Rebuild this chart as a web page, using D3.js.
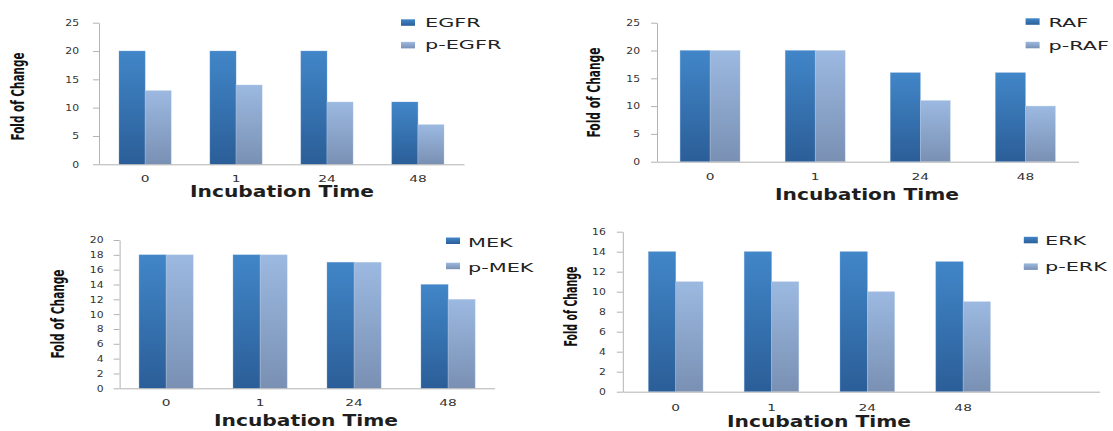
<!DOCTYPE html>
<html>
<head>
<meta charset="utf-8">
<script src="https://cdn.jsdelivr.net/npm/d3@7"></script>
<style>
  html, body { margin: 0; padding: 0; background: #ffffff; }
  svg { display: block; }
</style>
</head>
<body>
<svg id="chart" width="1113" height="431"></svg>
<script>
// Incubation time points (hours)
const times = ["0", "1", "24", "48"];

// Total vs phosphorylated protein, fold of change
const egfr  = [20, 20, 20, 11];
const pEgfr = [13, 14, 11, 7];
const raf   = [20, 20, 16, 16];
const pRaf  = [20, 20, 11, 10];
const mek   = [18, 18, 17, 14];
const pMek  = [18, 18, 17, 12];
const erk   = [14, 14, 14, 13];
const pErk  = [11, 11, 10, 9];

// Y tick values per panel
const ticks25 = [0, 5, 10, 15, 20, 25];
const ticks20 = [0, 2, 4, 6, 8, 10, 12, 14, 16, 18, 20];
const ticks16 = [0, 2, 4, 6, 8, 10, 12, 14, 16];

const xTitle = "Incubation Time";
const yTitle = "Fold of Change";

const panels = [
  { names: ["EGFR", "p-EGFR"], series: [egfr, pEgfr], ticks: ticks25, yMax: 25,
    xr: [99, 464], inner: 0.426, outer: 0.22, align: 0.5, yr: [164.3, 22.7],
    tickPad: 14, xLab: 182, tBase: 197, tX: 282, yt: { x: 24, y: 96.5, len: 88 },
    lg: { x: 401, y: 19.3, tx: 425, base: 26.7, gap: 22.6 } },
  { names: ["RAF", "p-RAF"], series: [raf, pRaf], ticks: ticks25, yMax: 25,
    xr: [657, 1078.5], inner: 0.43, outer: 0.22, align: 0.5, yr: [161.7, 22.7],
    tickPad: 11, xLab: 180, tBase: 200, tX: 867, yt: { x: 600, y: 92.5, len: 90 },
    lg: { x: 1025.6, y: 18.3, tx: 1048.5, base: 26.7, gap: 23.5 } },
  { names: ["MEK", "p-MEK"], series: [mek, pMek], ticks: ticks20, yMax: 20,
    xr: [119.6, 494.6], inner: 0.424, outer: 0.207, align: 0.5, yr: [388.3, 240],
    tickPad: 10, xLab: 406, tBase: 426, tX: 306, yt: { x: 64, y: 314, len: 89 },
    lg: { x: 446, y: 237.5, tx: 468, base: 246.5, gap: 25.2 } },
  { names: ["ERK", "p-ERK"], series: [erk, pErk], ticks: ticks16, yMax: 16,
    xr: [622.8, 1099.7], inner: 0.43, outer: 0.704, align: 0.19, yr: [391.7, 231.7],
    tickPad: 11, xLab: 411, tBase: 427, tX: 819, yt: { x: 577, y: 306.5, len: 80 },
    lg: { x: 1023.8, y: 236.8, tx: 1045, base: 244.5, gap: 26.6 } }
];

const svg = d3.select("#chart");
const defs = svg.append("defs");

// Vertical gradients for the two series
function gradient(id, top, bottom) {
  const g = defs.append("linearGradient").attr("id", id)
    .attr("x1", 0).attr("y1", 0).attr("x2", 0).attr("y2", 1);
  g.append("stop").attr("offset", "0%").attr("stop-color", top);
  g.append("stop").attr("offset", "100%").attr("stop-color", bottom);
}
gradient("gDark", "#4186c8", "#2b5e98");
gradient("gLight", "#9cb9e1", "#7990b3");
const fills = ["url(#gDark)", "url(#gLight)"];

// Widen text horizontally by a factor
function stretch(sel, factor) {
  sel.each(function () {
    const w = this.getComputedTextLength();
    d3.select(this).attr("textLength", w * factor).attr("lengthAdjust", "spacingAndGlyphs");
  });
}

panels.forEach(p => {
  const g = svg.append("g");

  const x = d3.scaleBand().domain(times).range(p.xr)
    .paddingInner(p.inner).paddingOuter(p.outer).align(p.align);
  const xs = d3.scaleBand().domain([0, 1]).range([0, x.bandwidth()]);
  const y = d3.scaleLinear().domain([0, p.yMax]).range(p.yr);

  // Bars
  p.series.forEach((vals, si) => {
    g.append("g").selectAll("rect").data(vals).join("rect")
      .attr("x", (d, i) => x(times[i]) + xs(si))
      .attr("y", d => y(d))
      .attr("width", xs.bandwidth())
      .attr("height", d => y(0) - y(d))
      .attr("fill", fills[si])
      .attr("stroke", si === 0 ? "#6f9fd3" : "#b7cbe6")
      .attr("stroke-width", 0.6)
      .attr("stroke-opacity", 0.6);
  });

  // Y axis
  const ya = g.append("g").attr("transform", `translate(${p.xr[0]},0)`)
    .call(d3.axisLeft(y).tickValues(p.ticks).tickSize(6).tickSizeOuter(0).tickPadding(p.tickPad));
  ya.select(".domain").attr("stroke", "#b3b3b3");
  ya.selectAll(".tick line").attr("stroke", "#b3b3b3");
  ya.selectAll(".tick text").attr("font-family", "'DejaVu Sans', Verdana, sans-serif")
    .attr("font-size", 9).attr("fill", "#333").call(stretch, 1.2);

  // X axis baseline
  const xa = g.append("g").attr("transform", `translate(0,${y(0)})`)
    .call(d3.axisBottom(x).tickSize(0).tickSizeOuter(0).tickPadding(0));
  xa.select(".domain").attr("stroke", "#b3b3b3");
  xa.selectAll(".tick text")
    .attr("y", p.xLab - y(0)).attr("dy", null)
    .attr("font-family", "'DejaVu Sans', Verdana, sans-serif")
    .attr("font-size", 9.5).attr("fill", "#333").call(stretch, 1.45);

  // Axis titles
  g.append("text").attr("x", p.tX).attr("y", p.tBase)
    .attr("text-anchor", "middle")
    .attr("font-family", "'DejaVu Sans', Verdana, sans-serif")
    .attr("font-weight", "bold").attr("font-size", 15.5).attr("fill", "#1e1e1e")
    .attr("textLength", 184).attr("lengthAdjust", "spacingAndGlyphs")
    .text(xTitle);

  g.append("text")
    .attr("transform", `translate(${p.yt.x},${p.yt.y}) rotate(-90)`)
    .attr("text-anchor", "middle")
    .attr("font-family", "'Liberation Sans Narrow', 'DejaVu Sans Condensed', sans-serif")
    .attr("font-weight", "bold").attr("font-size", 17).attr("fill", "#111")
    .attr("textLength", p.yt.len).attr("lengthAdjust", "spacingAndGlyphs")
    .text(yTitle);

  // Legend
  const lg = g.append("g");
  p.names.forEach((name, i) => {
    lg.append("rect")
      .attr("x", p.lg.x).attr("y", p.lg.y + i * p.lg.gap)
      .attr("width", 14).attr("height", 6.5)
      .attr("fill", fills[i]);
    lg.append("text")
      .attr("x", p.lg.tx).attr("y", p.lg.base + i * p.lg.gap)
      .attr("font-family", "'DejaVu Sans', Verdana, sans-serif")
      .attr("font-size", 13).attr("fill", "#222")
      .text(name).call(stretch, 1.6);
  });
});
</script>
</body>
</html>
